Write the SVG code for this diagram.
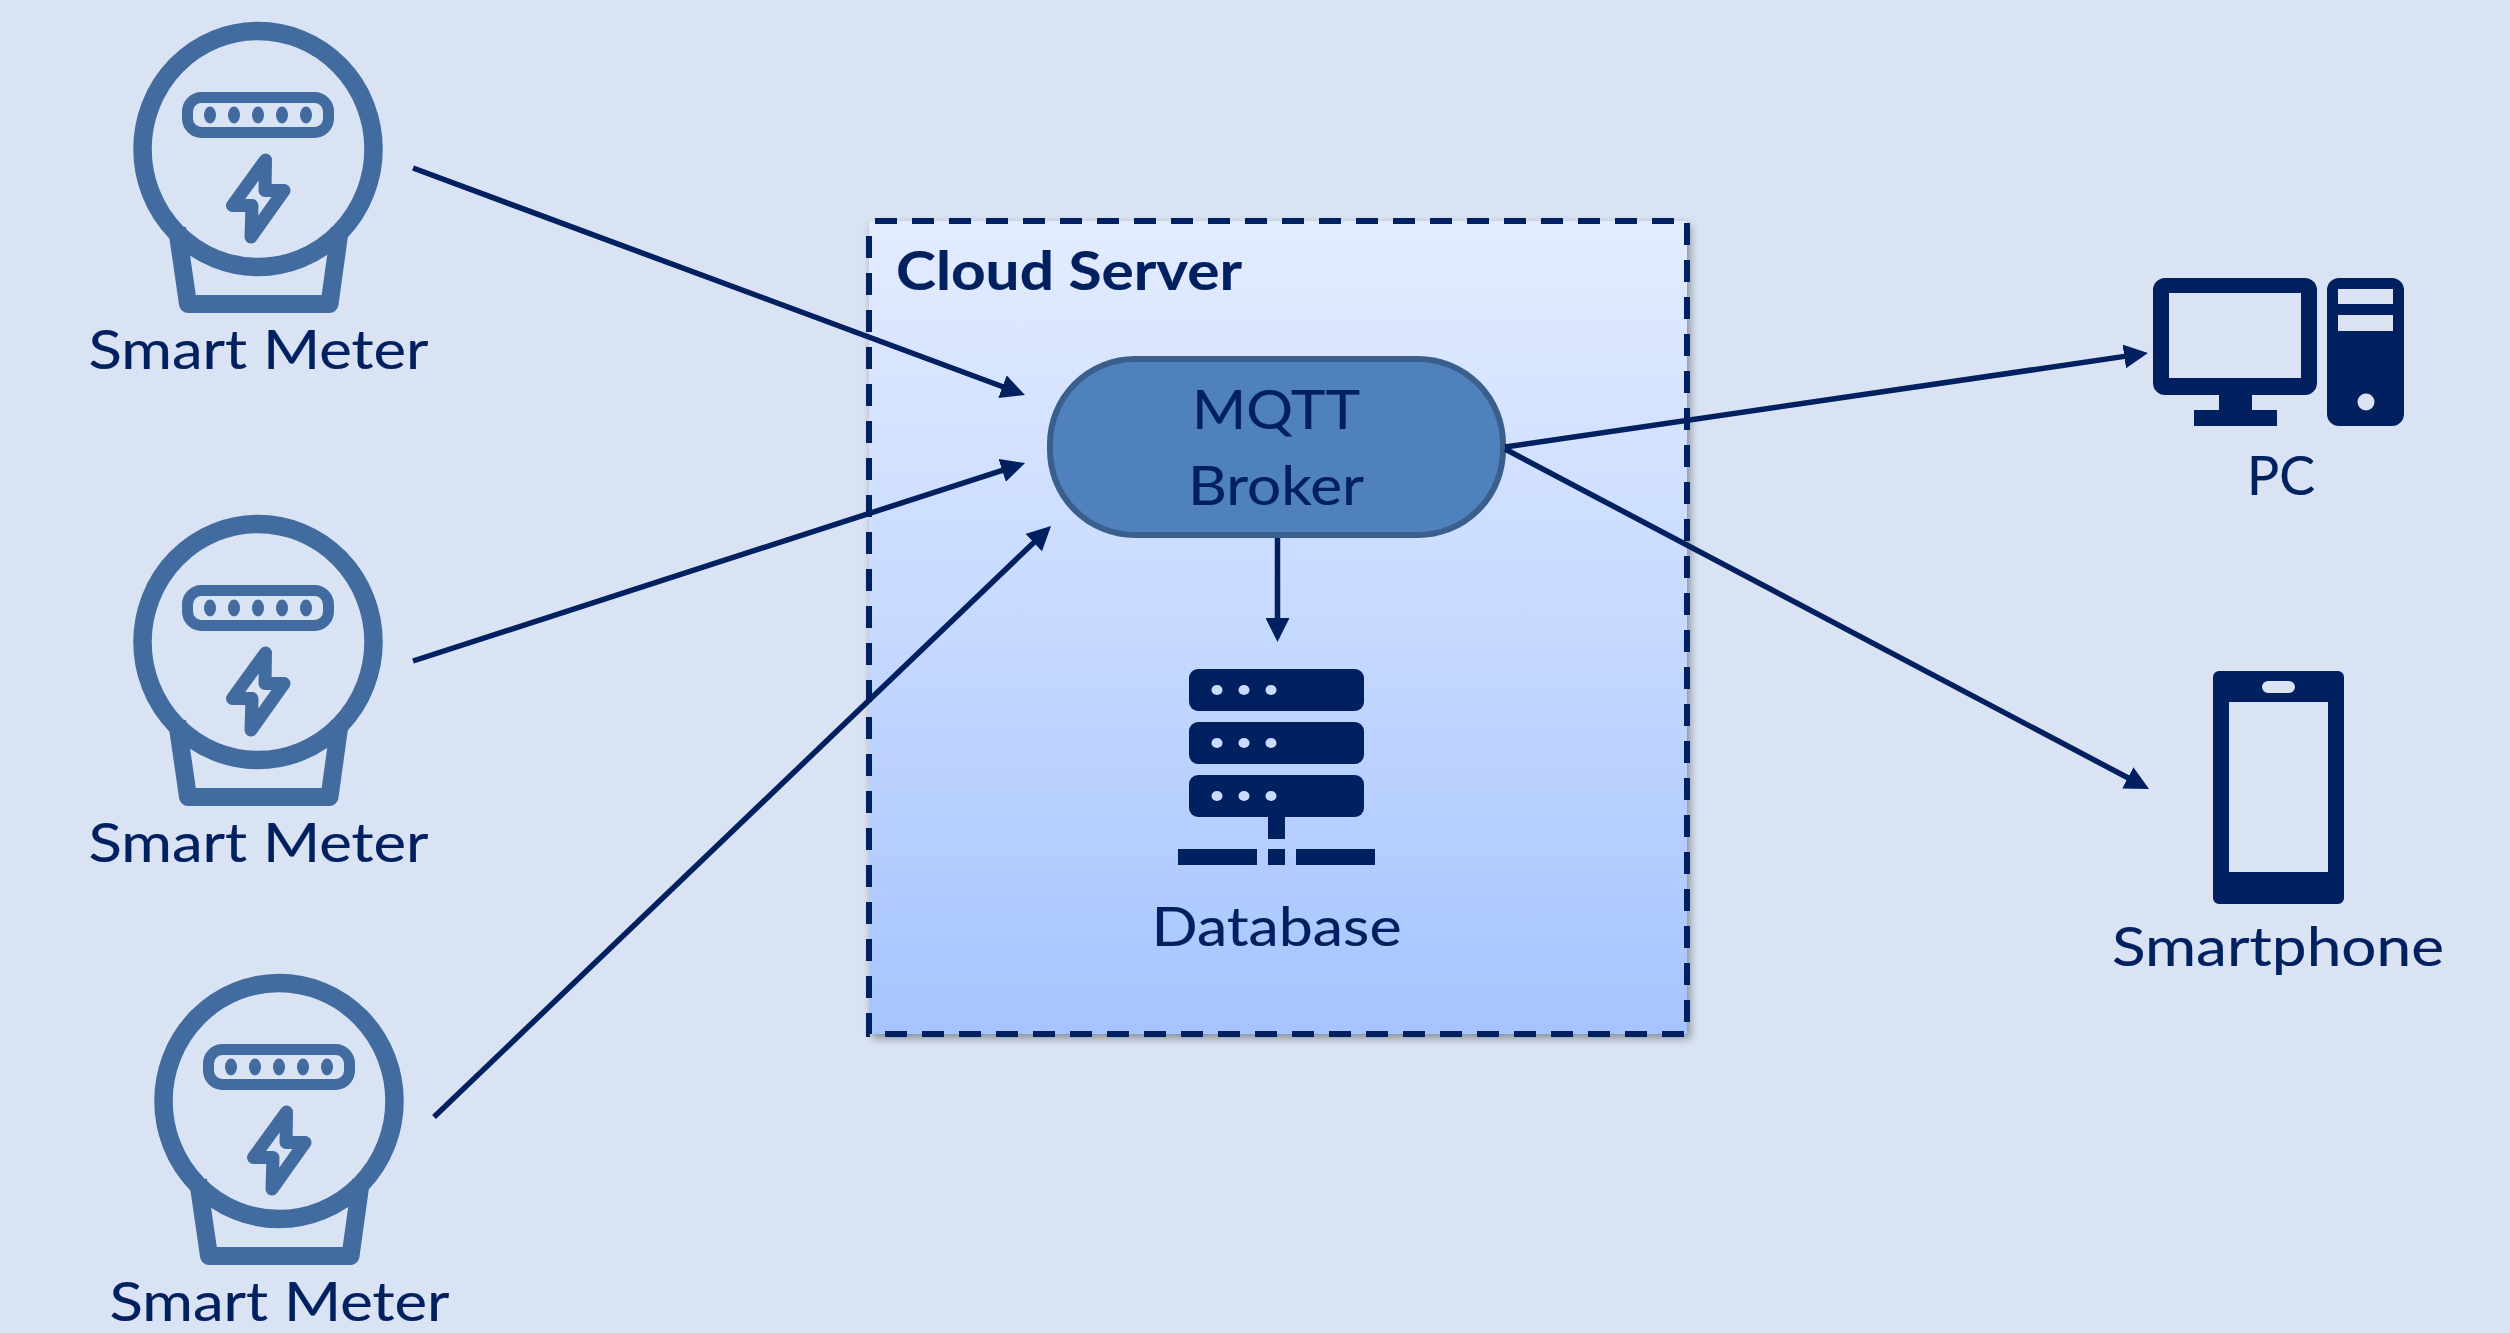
<svg xmlns="http://www.w3.org/2000/svg" width="2510" height="1333" viewBox="0 0 2510 1333">
<style>
.t{font-family:"Lato","Noto Sans","Liberation Sans",sans-serif;font-size:54px;fill:#002060;stroke:#002060;stroke-width:.2;text-anchor:middle}
.b{font-weight:700;text-anchor:start}
.c{stroke:#002060;stroke-width:5.500;fill:none;marker-end:url(#ah)}
.d{fill:#002060}
.s{fill:none;stroke:#426BA0;stroke-linejoin:round}
</style>
<defs>
<linearGradient id="cg" x1="0" y1="0" x2="0" y2="1"><stop offset="0" stop-color="#E3ECFF"/><stop offset=".5" stop-color="#C6D9FF"/><stop offset="1" stop-color="#A6C4FF"/></linearGradient>
<filter id="sh" x="-5%" y="-5%" width="110%" height="110%"><feDropShadow dx="3" dy="4" stdDeviation="5" flood-color="#000" flood-opacity=".4"/></filter>
<marker id="ah" markerUnits="userSpaceOnUse" viewBox="0 0 24 24" markerWidth="24" markerHeight="24" refX="14" refY="12" orient="auto"><path d="M0 0L24 12L0 24z" fill="#002060"/></marker>
<g id="meter">
<ellipse class="s" cx="258" cy="149" rx="115.500" ry="118" stroke-width="18.500"/>
<path class="s" stroke-width="18" d="M177 228L188 304H329.500L340 228"/>
<rect class="s" x="187.500" y="97.500" width="141" height="35" rx="14" stroke-width="11"/>
<g fill="#426BA0"><ellipse cx="210" cy="115" rx="6" ry="8.500"/><ellipse cx="234" cy="115" rx="6" ry="8.500"/><ellipse cx="258" cy="115" rx="6" ry="8.500"/><ellipse cx="282" cy="115" rx="6" ry="8.500"/><ellipse cx="306" cy="115" rx="6" ry="8.500"/></g>
<path class="s" stroke-width="13" d="M265.500 160L232.500 205.500H252L251 237L284 190.500H265Z"/>
</g>
</defs>
<rect width="2510" height="1333" fill="#DAE3F3"/>
<g id="cloud-server">
<rect x="869" y="221" width="818" height="813" fill="url(#cg)" filter="url(#sh)"/>
<rect x="869" y="221" width="818" height="813" fill="none" stroke="#002060" stroke-width="6" stroke-dasharray="22 15" stroke-dashoffset="-6"/>
<text class="t b" x="896" y="290" textLength="346" lengthAdjust="spacingAndGlyphs">Cloud Server</text>
</g>
<g id="meter-1"><use href="#meter"/><text class="t" x="258.500" y="369" textLength="340" lengthAdjust="spacingAndGlyphs">Smart Meter</text></g>
<g id="meter-2"><use href="#meter" y="493"/><text class="t" x="258.500" y="862" textLength="340" lengthAdjust="spacingAndGlyphs">Smart Meter</text></g>
<g id="meter-3"><use href="#meter" x="21" y="952"/><text class="t" x="279.500" y="1321" textLength="340" lengthAdjust="spacingAndGlyphs">Smart Meter</text></g>
<g id="broker">
<rect x="1050" y="359" width="453" height="176" rx="85" fill="#4F81BD" stroke="#3A5F8C" stroke-width="6"/>
<text class="t" x="1276" y="429" textLength="168" lengthAdjust="spacingAndGlyphs">MQTT</text>
<text class="t" x="1276" y="505" textLength="176" lengthAdjust="spacingAndGlyphs">Broker</text>
</g>
<g id="database">
<rect class="d" x="1189" y="669" width="175" height="42" rx="9"/>
<rect class="d" x="1189" y="722" width="175" height="42" rx="9"/>
<rect class="d" x="1189" y="775" width="175" height="42" rx="9"/>
<g fill="#C9DBFF">
<ellipse cx="1217" cy="690" rx="5.500" ry="5"/><ellipse cx="1244" cy="690" rx="5.500" ry="5"/><ellipse cx="1271" cy="690" rx="5.500" ry="5"/>
<ellipse cx="1217" cy="743" rx="5.500" ry="5"/><ellipse cx="1244" cy="743" rx="5.500" ry="5"/><ellipse cx="1271" cy="743" rx="5.500" ry="5"/>
<ellipse cx="1217" cy="796" rx="5.500" ry="5"/><ellipse cx="1244" cy="796" rx="5.500" ry="5"/><ellipse cx="1271" cy="796" rx="5.500" ry="5"/>
</g>
<rect class="d" x="1268" y="817" width="17" height="22"/>
<rect class="d" x="1178" y="849" width="79" height="16"/>
<rect class="d" x="1268" y="849" width="17" height="16"/>
<rect class="d" x="1296" y="849" width="79" height="16"/>
<text class="t" x="1276.500" y="946" textLength="250" lengthAdjust="spacingAndGlyphs">Database</text>
</g>
<g id="pc">
<path class="d" fill-rule="evenodd" d="M2165 278H2305a12 12 0 0 1 12 12V383a12 12 0 0 1-12 12H2252V410H2277V426H2194V410H2219V395H2165a12 12 0 0 1-12-12V290a12 12 0 0 1 12-12ZM2169 293V378H2301V293Z"/>
<path class="d" fill-rule="evenodd" d="M2339 278H2392a12 12 0 0 1 12 12V414a12 12 0 0 1-12 12H2339a12 12 0 0 1-12-12V290a12 12 0 0 1 12-12ZM2338 289V304H2393V289ZM2338 315V331H2393V315ZM2357.500 402a8.500 8.500 0 1 0 17 0a8.500 8.500 0 1 0-17 0Z"/>
<text class="t" x="2281" y="495" textLength="68" lengthAdjust="spacingAndGlyphs">PC</text>
</g>
<g id="smartphone">
<path class="d" fill-rule="evenodd" d="M2219 671H2338a6 6 0 0 1 6 6V898a6 6 0 0 1-6 6H2219a6 6 0 0 1-6-6V677a6 6 0 0 1 6-6ZM2229 702V872H2328V702ZM2268 681a6 6 0 0 0 0 12H2289a6 6 0 0 0 0-12Z"/>
<text class="t" x="2278" y="966" textLength="332" lengthAdjust="spacingAndGlyphs">Smartphone</text>
</g>
<g id="connectors">
<path class="c" d="M413 168L1015.600 391.500"/>
<path class="c" d="M413 661L1015.500 466.100"/>
<path class="c" d="M434 1117L1043.800 532.900"/>
<path class="c" d="M1505 447L2138.100 354.400"/>
<path class="c" d="M1505 449L2140.200 784.300"/>
<path class="c" d="M1277.500 538V632"/>
</g>
</svg>
